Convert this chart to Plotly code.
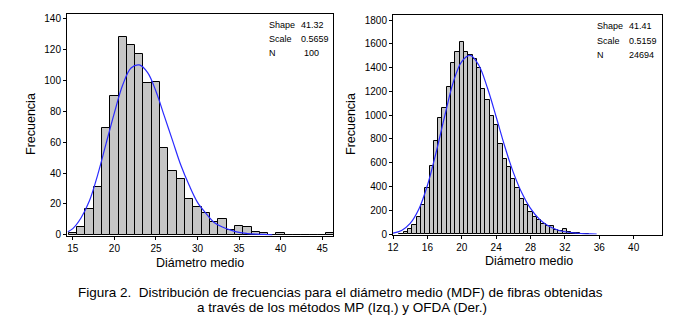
import plotly.graph_objects as go

W, H = 683, 319
OFF = 8  # default page body margin of the html page, compensated below

# ---- Left histogram (MP) ----
left_bins = [15, 16, 17, 18, 19, 20, 21, 22, 23, 24, 25, 26, 27, 28, 29, 30,
             31, 32, 33, 34, 35, 36, 37, 38, 39, 40, 41, 42, 43, 44, 45, 46]
left_counts = [1, 5, 17, 31, 69, 90, 128, 123, 117, 98, 99, 56, 41, 36, 23, 18,
               14, 8, 10, 3, 6, 5, 2, 1, 0, 1, 0, 0, 0, 0, 0, 1]
left_curve_x = [14.4, 15, 16, 17, 18, 19, 20, 21, 22, 23, 24, 25, 26, 27, 28, 29,
                30, 31, 32, 33, 34, 35, 36, 37, 38, 39]
left_curve_y = [2, 4, 11, 22, 39, 59, 79, 97, 108, 110, 105, 93, 77, 61, 45, 32,
                21, 14, 8, 5, 3, 1.5, 0.8, 0.4, 0.2, 0]
left_stats = [("Shape", "41.32"), ("Scale", "0.5659"), ("N", "100")]

# ---- Right histogram (OFDA) ----
right_bins = [13.0, 13.5, 14.0, 14.5, 15.0, 15.5, 16.0, 16.5, 17.0, 17.5, 18.0, 18.5,
              19.0, 19.5, 20.0, 20.5, 21.0, 21.5, 22.0, 22.5, 23.0, 23.5, 24.0, 24.5,
              25.0, 25.5, 26.0, 26.5, 27.0, 27.5, 28.0, 28.5, 29.0, 29.5, 30.0, 30.5,
              31.0, 31.5, 32.0, 32.5, 33.0, 33.5, 34.0, 34.5]
right_counts = [5, 14, 40, 73, 146, 244, 384, 572, 785, 973, 1064, 1234,
                1440, 1528, 1618, 1532, 1510, 1472, 1400, 1218, 1130, 992, 917, 757,
                631, 566, 460, 384, 294, 244, 182, 140, 118, 84, 67, 67,
                34, 30, 40, 20, 8, 6, 5, 4]
right_curve_x = [12, 13, 14, 15, 16, 17, 18, 19, 20, 21, 22, 23, 24, 25, 26, 27,
                 28, 29, 30, 31, 32, 33, 34, 35, 35.7]
right_curve_y = [8, 31, 90, 209, 409, 682, 987, 1274, 1451, 1502, 1418, 1226, 987, 739, 519, 345,
                 216, 128, 72, 39, 20, 10, 5, 2, 1]
right_stats = [("Shape", "41.41"), ("Scale", "0.5159"), ("N", "24694")]

x_title = "Diámetro medio"
y_title = "Frecuencia"
caption1 = "Figura 2.&nbsp; Distribución de frecuencias para el diámetro medio (MDF) de fibras obtenidas"
caption2 = "a través de los métodos MP (Izq.) y OFDA (Der.)"

FONT = "Liberation Sans, Arial, sans-serif"
BAR_FILL = "#c6c6c6"
CURVE = "#2a2aff"

def px(x):
    return (x - OFF) / W

def py(y):
    return (H - (y - OFF)) / H

fig = go.Figure()

fig.add_trace(go.Bar(x=left_bins, y=left_counts, width=1.0,
                     marker=dict(color=BAR_FILL, line=dict(color="black", width=1)),
                     xaxis="x", yaxis="y", showlegend=False))
fig.add_trace(go.Scatter(x=left_curve_x, y=left_curve_y, mode="lines",
                         line=dict(color=CURVE, width=1.2, shape="spline"),
                         xaxis="x", yaxis="y", showlegend=False))
fig.add_trace(go.Bar(x=right_bins, y=right_counts, width=0.5,
                     marker=dict(color=BAR_FILL, line=dict(color="black", width=1)),
                     xaxis="x2", yaxis="y2", showlegend=False))
fig.add_trace(go.Scatter(x=right_curve_x, y=right_curve_y, mode="lines",
                         line=dict(color=CURVE, width=1.2, shape="spline"),
                         xaxis="x2", yaxis="y2", showlegend=False))

axis_common = dict(showline=True, linecolor="black", linewidth=1, mirror=True,
                   ticks="outside", ticklen=3, tickcolor="black", tickwidth=1,
                   showgrid=False, zeroline=False, automargin=False,
                   tickfont=dict(family=FONT, size=10, color="black"))

fig.update_layout(
    width=W, height=H,
    margin=dict(l=0, r=0, t=0, b=0, autoexpand=False),
    paper_bgcolor="white", plot_bgcolor="white",
    bargap=0,
    xaxis=dict(domain=[px(67), px(333)], range=[14.3, 46.3], tick0=15, dtick=5,
               anchor="y", **axis_common),
    yaxis=dict(domain=[py(236), py(14)], range=[-0.8, 143], tick0=0, dtick=20,
               anchor="x", **axis_common),
    xaxis2=dict(domain=[px(393), px(662)], range=[12, 43.3], tick0=12, dtick=4,
                anchor="y2", **axis_common),
    yaxis2=dict(domain=[py(234.5), py(15)], range=[-3, 1842], tick0=0, dtick=200,
                anchor="x2", **axis_common),
)

annotations = []
def text(x, y, s, size, xanchor="center", angle=0):
    annotations.append(dict(x=px(x), y=py(y), xref="paper", yref="paper", text=s,
                            showarrow=False, xanchor=xanchor, yanchor="middle",
                            textangle=angle,
                            font=dict(family=FONT, size=size, color="black")))

# axis titles
text(200, 263, x_title, 12.5)
text(529, 261, x_title, 12.5)
text(31, 124, y_title, 12.5, angle=-90)
text(351, 124, y_title, 12.5, angle=-90)

# stats boxes
for i, (k, v) in enumerate(left_stats):
    text(267, 25 + 14 * i, k, 9, xanchor="left")
    text(299 if k != "N" else 302, 25 + 14 * i, v, 9, xanchor="left")
for i, (k, v) in enumerate(right_stats):
    text(595, 26 + 14.5 * i, k, 9, xanchor="left")
    text(627, 26 + 14.5 * i, v, 9, xanchor="left")

# caption
text(340, 292, caption1, 13.5)
text(342, 307, caption2, 13.5)

fig.update_layout(annotations=annotations)
fig.write_html("out.html")
